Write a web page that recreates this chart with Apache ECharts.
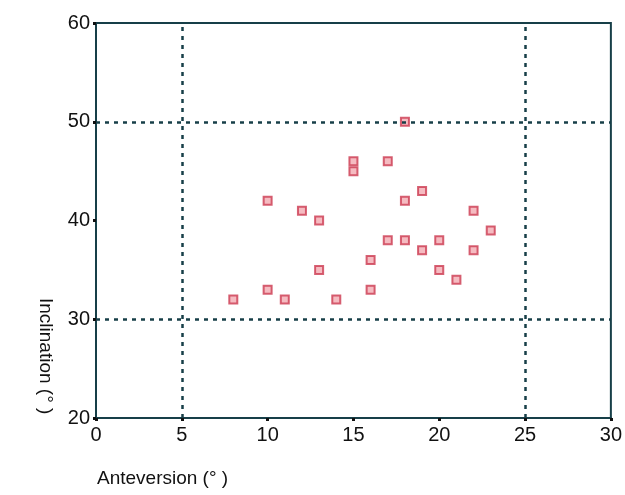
<!DOCTYPE html>
<html>
<head>
<meta charset="utf-8">
<script src="https://cdn.jsdelivr.net/npm/echarts@6/dist/echarts.min.js"></script>
<style>
html, body { margin: 0; padding: 0; background: #fff; }
#chart { width: 625px; height: 495px; }
</style>
</head>
<body>
<div id="chart"></div>
<script>
// anteversion / inclination pairs
const anteversion = [18, 15, 15, 17, 19, 10, 18, 12, 22, 13, 23, 17, 18, 20, 19, 22, 16, 13, 20, 21, 10, 16, 8, 11, 14];
const inclination = [50, 46, 45, 46, 43, 42, 42, 41, 41, 40, 39, 38, 38, 38, 37, 37, 36, 35, 35, 34, 33, 33, 32, 32, 32];
const safeX = [5, 25];
const safeY = [30, 50];

const points = anteversion.map((v, i) => [v, inclination[i]]);
const lineColor = '#173f48';
const font = 'Liberation Sans';

const myChart = echarts.init(document.getElementById('chart'));
const option = {
    backgroundColor: '#fff',
    animation: false,
    grid: {
        left: 96,
        right: 12,
        top: 23,
        bottom: 77,
        show: true,
        borderColor: lineColor,
        borderWidth: 2
    },
    xAxis: {
        type: 'value',
        min: 0,
        max: 30,
        interval: 5,
        axisLine: { show: true, lineStyle: { color: lineColor, width: 2 } },
        axisTick: { show: true, length: 3, lineStyle: { color: '#111', width: 3 } },
        axisLabel: { color: '#111', fontSize: 20, fontFamily: font, margin: 7 },
        splitLine: { show: false }
    },
    yAxis: {
        type: 'value',
        min: 20,
        max: 60,
        interval: 10,
        axisLine: { show: true, lineStyle: { color: lineColor, width: 2 } },
        axisTick: { show: true, length: 3, lineStyle: { color: '#111', width: 3 } },
        axisLabel: { color: '#111', fontSize: 20, fontFamily: font, margin: 6 },
        splitLine: { show: false }
    },
    graphic: [
        {
            type: 'text',
            left: 97,
            top: 469,
            style: { text: 'Anteversion (° )', fill: '#111', fontSize: 19, fontFamily: font }
        },
        {
            type: 'text',
            x: 55,
            y: 298,
            rotation: -Math.PI / 2,
            style: { text: 'Inclination (° )', fill: '#111', fontSize: 19, fontFamily: font }
        }
    ],
    series: [{
        type: 'scatter',
        data: points,
        symbol: 'rect',
        symbolSize: 8,
        itemStyle: { color: '#f2aab2', borderColor: '#cc3a50', borderWidth: 2 },
        markLine: {
            silent: true,
            symbol: 'none',
            label: { show: false },
            lineStyle: { color: lineColor, type: [4, 5], width: 2.5 },
            data: safeX.map(v => ({ xAxis: v })).concat(safeY.map(v => ({ yAxis: v })))
        },
        z: 3
    }]
};
myChart.setOption(option, true);
</script>
</body>
</html>
